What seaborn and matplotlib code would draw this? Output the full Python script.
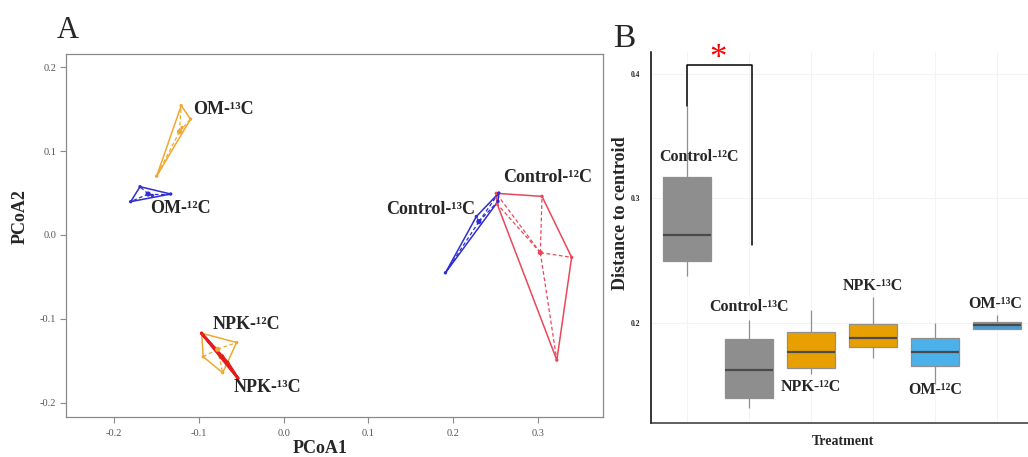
import numpy as np
import pandas as pd
import matplotlib
matplotlib.use("Agg")
import matplotlib.pyplot as plt
import seaborn as sns

# --- panel A: PCoA site scores per group ---
groups = ["Control-¹²C", "Control-¹³C", "NPK-¹²C", "NPK-¹³C", "OM-¹²C", "OM-¹³C"]
pc1_control12 = [0.251, 0.305, 0.340, 0.3225, 0.252]
pc2_control12 = [0.0496, 0.046, -0.0266, -0.149, 0.037]
pc1_control13 = [0.191, 0.2275, 0.254, 0.253]
pc2_control13 = [-0.045, 0.022, 0.050, 0.040]
pc1_npk12 = [-0.0968, -0.0556, -0.072, -0.095]
pc2_npk12 = [-0.117, -0.128, -0.164, -0.145]
pc1_npk13 = [-0.097, -0.054, -0.072, -0.066]
pc2_npk13 = [-0.117, -0.1706, -0.146, -0.152]
pc1_om12 = [-0.1696, -0.1334, -0.1806, -0.155]
pc2_om12 = [0.0575, 0.0488, 0.0397, 0.047]
pc1_om13 = [-0.121, -0.110, -0.150, -0.120]
pc2_om13 = [0.154, 0.138, 0.070, 0.128]
centroid_pc1 = [0.303, 0.2305, -0.078, -0.073, -0.160, -0.123]
centroid_pc2 = [-0.021, 0.0159, -0.136, -0.145, 0.0488, 0.123]

# --- panel B: distance to centroid, five-number summaries ---
dist_control12 = [0.238, 0.250, 0.271, 0.317, 0.374]
dist_control13 = [0.132, 0.140, 0.162, 0.187, 0.202]
dist_npk12 = [0.159, 0.164, 0.177, 0.193, 0.210]
dist_npk13 = [0.172, 0.181, 0.188, 0.1995, 0.221]
dist_om12 = [0.151, 0.165, 0.177, 0.188, 0.200]
dist_om13 = [0.195, 0.195, 0.198, 0.201, 0.206]
sig_left = 0.374
sig_top = 0.407
sig_right = 0.263

pcoa = pd.concat([
    pd.DataFrame({"group": g, "PCoA1": x, "PCoA2": y})
    for g, x, y in zip(groups,
                       [pc1_control12, pc1_control13, pc1_npk12, pc1_npk13, pc1_om12, pc1_om13],
                       [pc2_control12, pc2_control13, pc2_npk12, pc2_npk13, pc2_om12, pc2_om13])
])
dist = pd.concat([
    pd.DataFrame({"Treatment": g, "dist": d})
    for g, d in zip(groups, [dist_control12, dist_control13, dist_npk12,
                             dist_npk13, dist_om12, dist_om13])
])

sns.set_style("white")
plt.rcParams["font.family"] = ["Liberation Serif", "DejaVu Serif"]

hull_colors = {"Control-¹²C": "#e8485a", "Control-¹³C": "#2e2ed2", "NPK-¹²C": "#f0a830",
               "NPK-¹³C": "#e41a1c", "OM-¹²C": "#2e2ed2", "OM-¹³C": "#f0a830"}
hull_lw = {"NPK-¹³C": 2.0}
box_colors = {"Control-¹²C": "#8e8e8e", "Control-¹³C": "#8e8e8e", "NPK-¹²C": "#e8a000",
              "NPK-¹³C": "#e8a000", "OM-¹²C": "#4cb0ea", "OM-¹³C": "#4a9ccf"}


def convex_hull(pts):
    pts = sorted(pts)

    def cross(o, a, b):
        return (a[0] - o[0]) * (b[1] - o[1]) - (a[1] - o[1]) * (b[0] - o[0])

    lower, upper = [], []
    for p in pts:
        while len(lower) >= 2 and cross(lower[-2], lower[-1], p) <= 0:
            lower.pop()
        lower.append(p)
    for p in reversed(pts):
        while len(upper) >= 2 and cross(upper[-2], upper[-1], p) <= 0:
            upper.pop()
        upper.append(p)
    return lower[:-1] + upper[:-1]


fig = plt.figure(figsize=(10.28, 4.57), dpi=100)
axA = fig.add_axes([66 / 1028, 1 - 417 / 457, 537 / 1028, 363 / 457])
axB = fig.add_axes([651 / 1028, 1 - 423 / 457, 377 / 1028, 371 / 457])

# ---------------- panel A ----------------
for i, g in enumerate(groups):
    sub = pcoa[pcoa["group"] == g]
    col = hull_colors[g]
    lw = hull_lw.get(g, 1.1)
    pts = list(zip(sub["PCoA1"], sub["PCoA2"]))
    h = convex_hull(pts)
    h = h + [h[0]]
    axA.plot([p[0] for p in h], [p[1] for p in h], color=col, lw=lw, zorder=2)
    cx, cy = centroid_pc1[i], centroid_pc2[i]
    for px, py in pts:
        axA.plot([cx, px], [cy, py], color=col, lw=0.9, ls=(0, (3, 2)), zorder=2)
sns.scatterplot(data=pcoa, x="PCoA1", y="PCoA2", hue="group", palette=hull_colors,
                s=6, linewidth=0, legend=False, ax=axA, zorder=3)
sns.scatterplot(x=centroid_pc1, y=centroid_pc2, hue=groups, palette=hull_colors,
                s=14, linewidth=0, legend=False, ax=axA, zorder=3)

lab_kw = dict(fontsize=13, fontweight="bold", va="center")
axA.text(-0.107, 0.149, "OM-¹³C", ha="left", **lab_kw)
axA.text(-0.158, 0.031, "OM-¹²C", ha="left", **lab_kw)
axA.text(-0.0838, -0.107, "NPK-¹²C", ha="left", **lab_kw)
axA.text(-0.0595, -0.181, "NPK-¹³C", ha="left", **lab_kw)
axA.text(0.2255, 0.0298, "Control-¹³C", ha="right", **lab_kw)
axA.text(0.259, 0.0687, "Control-¹²C", ha="left", **lab_kw)

axA.set_xlim(-0.257, 0.377)
axA.set_ylim(-0.2167, 0.2155)
axA.set_xticks([-0.2, -0.1, 0.0, 0.1, 0.2, 0.3])
axA.set_yticks([-0.2, -0.1, 0.0, 0.1, 0.2])
axA.set_xticklabels(["-0.2", "-0.1", "0.0", "0.1", "0.2", "0.3"])
axA.set_yticklabels(["-0.2", "-0.1", "0.0", "0.1", "0.2"])
axA.tick_params(axis="both", direction="out", length=4, width=0.8, color="#8a8a8a",
                labelsize=7.5, labelcolor="#555555", pad=3, bottom=True, left=True)
axA.tick_params(axis="x", pad=5)
for s in axA.spines.values():
    s.set_color("#8a8a8a")
    s.set_linewidth(0.9)
axA.set_xlabel("PCoA1", fontsize=13, fontweight="bold")
axA.xaxis.set_label_coords(0.473, -0.062)
axA.set_ylabel("PCoA2", fontsize=13, fontweight="bold")
axA.yaxis.set_label_coords(-0.07, 0.551)

# ---------------- panel B ----------------
sns.boxplot(data=dist, x="Treatment", y="dist", hue="Treatment", palette=box_colors,
            whis=(0, 100), width=0.76, saturation=1, linecolor="#8f8f8f", linewidth=0.9,
            showcaps=False, medianprops=dict(color="#4a4a4a", linewidth=1.6),
            legend=False, ax=axB)
axB.set_xlim(-0.58, 5.5)
axB.set_ylim(0.1196, 0.4177)
axB.set_xticks(range(6))
axB.set_xticklabels([])
axB.set_yticks([0.2, 0.3, 0.4])
axB.set_yticklabels(["0.2", "0.3", "0.4"])
axB.tick_params(axis="both", length=0, labelsize=5.5, pad=8)
for t in axB.get_yticklabels():
    t.set_fontweight("bold")
axB.grid(True, color="#f3f3f3", lw=0.8)
axB.set_axisbelow(True)
axB.spines["top"].set_visible(False)
axB.spines["right"].set_visible(False)
axB.spines["left"].set_color("black")
axB.spines["bottom"].set_color("#333333")
axB.spines["left"].set_linewidth(1.1)
axB.spines["bottom"].set_linewidth(1.1)
axB.set_xlabel("")
axB.set_ylabel("")
axB.text(-0.082, 0.566, "Distance to centroid", transform=axB.transAxes, rotation=90,
         ha="center", va="center", fontsize=13, fontweight="bold")
axB.text(0.509, -0.051, "Treatment", transform=axB.transAxes, ha="center", va="center",
         fontsize=10, fontweight="bold")

blab = dict(fontsize=11.5, fontweight="bold", ha="center", va="center")
axB.text(0.2, 0.3335, "Control-¹²C", **blab)
axB.text(1.0, 0.213, "Control-¹³C", **blab)
axB.text(2.0, 0.1485, "NPK-¹²C", **blab)
axB.text(3.0, 0.2295, "NPK-¹³C", **blab)
axB.text(4.0, 0.146, "OM-¹²C", **blab)
axB.text(4.97, 0.2155, "OM-¹³C", **blab)

axB.plot([0, 0, 1.05, 1.05], [sig_left, sig_top, sig_top, sig_right], color="black",
         lw=1.1, clip_on=False)
axB.text(0.5, 0.412, "*", color="red", fontsize=25, ha="center", va="center",
         clip_on=False)

fig.text(57 / 1028, 1 - 38 / 457, "A", fontsize=22, va="baseline", ha="left")
fig.text(613 / 1028, 1 - 47 / 457, "B", fontsize=24, va="baseline", ha="left")

fig.savefig("out.png", dpi=100)
